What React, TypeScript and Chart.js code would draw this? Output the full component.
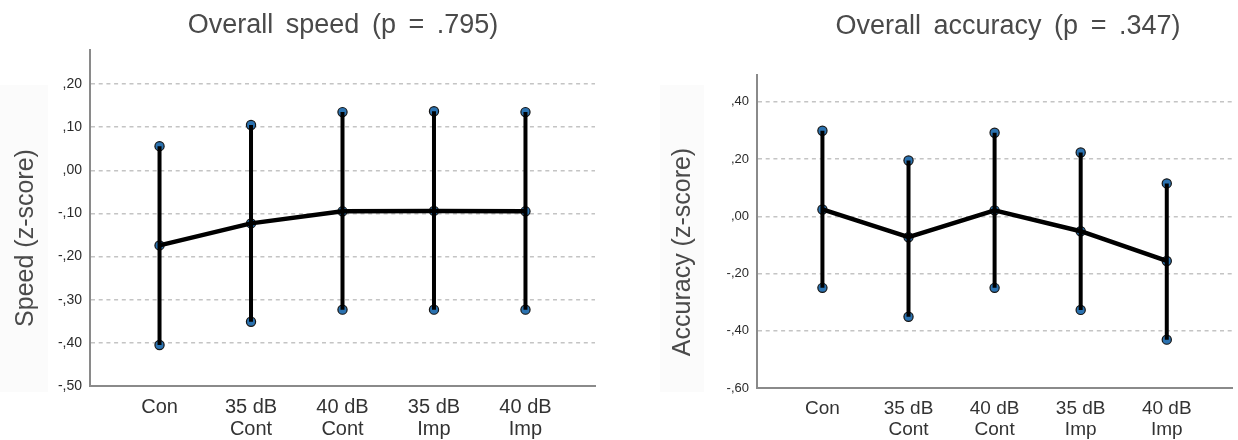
import React, { useEffect, useRef } from "react";
import { Chart, registerables } from "chart.js";

Chart.register(...registerables);

// ---------------- data ----------------
const categories = ["Con", "35 dB\nCont", "40 dB\nCont", "35 dB\nImp", "40 dB\nImp"];

const speedMean = [-0.174, -0.123, -0.095, -0.094, -0.095];
const speedLower = [-0.405, -0.351, -0.323, -0.323, -0.323];
const speedUpper = [0.056, 0.105, 0.135, 0.137, 0.135];

const accMean = [0.024, -0.073, 0.021, -0.052, -0.156];
const accLower = [-0.25, -0.351, -0.25, -0.327, -0.431];
const accUpper = [0.299, 0.195, 0.292, 0.223, 0.115];

const speedTicks = [0.2, 0.1, 0, -0.1, -0.2, -0.3, -0.4, -0.5];
const speedTickLabels = [",20", ",10", ",00", "-,10", "-,20", "-,30", "-,40", "-,50"];
const accTicks = [0.4, 0.2, 0, -0.2, -0.4, -0.6];
const accTickLabels = [",40", ",20", ",00", "-,20", "-,40", "-,60"];

const speedTitle = "Overall speed (p = .795)";
const accTitle = "Overall accuracy (p = .347)";
const speedAxisTitle = "Speed (z-score)";
const accAxisTitle = "Accuracy (z-score)";

// ---------------- styling / layout ----------------
const FONT = "'Liberation Sans', Arial, Helvetica, sans-serif";

type Spec = {
  offset: number;
  w: number;
  area: { left: number; right: number; top: number; bottom: number };
  yMin: number;
  yMax: number;
  ticks: number[];
  tickLabels: string[];
  mean: number[];
  lower: number[];
  upper: number[];
  tickFont: number;
  xFont: number;
  xLineH: number;
  xPad: number;
  title: string;
  titleX: number;
  titleY: number;
  yTitle: string;
  yTitleX: number;
  yTitleY: number;
  box: { x: number; y: number; w: number; h: number };
};

const leftSpec: Spec = {
  offset: 0,
  w: 620,
  area: { left: 90, right: 595, top: 50, bottom: 386 },
  yMin: -0.5,
  yMax: 0.279,
  ticks: speedTicks,
  tickLabels: speedTickLabels,
  mean: speedMean,
  lower: speedLower,
  upper: speedUpper,
  tickFont: 14,
  xFont: 20,
  xLineH: 22,
  xPad: 10,
  title: speedTitle,
  titleX: 343,
  titleY: 33,
  yTitle: speedAxisTitle,
  yTitleX: 26,
  yTitleY: 238,
  box: { x: 0, y: 85, w: 48, h: 307 },
};

const rightSpec: Spec = {
  offset: 620,
  w: 618,
  area: { left: 137, right: 618, top: 75, bottom: 388 },
  yMin: -0.6,
  yMax: 0.494,
  ticks: accTicks,
  tickLabels: accTickLabels,
  mean: accMean,
  lower: accLower,
  upper: accUpper,
  tickFont: 13,
  xFont: 19,
  xLineH: 21,
  xPad: 10,
  title: accTitle,
  titleX: 388,
  titleY: 34,
  yTitle: accAxisTitle,
  yTitleX: 63,
  yTitleY: 252,
  box: { x: 40, y: 85, w: 44, h: 307 },
};

function makeConfig(spec: Spec): any {
  const lineColor = "#000000";
  const errorSets = categories.map((_, i) => ({
    type: "line",
    data: [
      { x: i, y: spec.lower[i] },
      { x: i, y: spec.upper[i] },
    ],
    borderColor: lineColor,
    borderWidth: 4,
    pointRadius: 0,
    fill: false,
    order: 1,
  }));
  const meanSet = {
    type: "line",
    data: categories.map((_, i) => ({ x: i, y: spec.mean[i] })),
    borderColor: lineColor,
    borderWidth: 4.5,
    borderJoinStyle: "round",
    pointRadius: 0,
    fill: false,
    tension: 0,
    order: 0,
  };
  const pointData: { x: number; y: number }[] = [];
  categories.forEach((_, i) => {
    pointData.push({ x: i, y: spec.lower[i] });
    pointData.push({ x: i, y: spec.upper[i] });
    pointData.push({ x: i, y: spec.mean[i] });
  });
  const pointSet = {
    type: "line",
    data: pointData,
    showLine: false,
    pointRadius: 4.6,
    pointBackgroundColor: "#2b72b0",
    pointBorderColor: "#151515",
    pointBorderWidth: 1.2,
    order: 5,
  };

  const textPlugin = {
    id: "panelText" + spec.offset,
    beforeDraw(chart: any) {
      const ctx = chart.ctx;
      ctx.save();
      ctx.fillStyle = "#fbfbfb";
      ctx.fillRect(spec.box.x, spec.box.y, spec.box.w, spec.box.h);
      ctx.restore();
    },
    afterDraw(chart: any) {
      const ctx = chart.ctx;
      ctx.save();
      ctx.font = `27px ${FONT}`;
      ctx.fillStyle = "#4a4a4a";
      ctx.textAlign = "center";
      ctx.textBaseline = "alphabetic";
      (ctx as any).wordSpacing = "5px";
      ctx.fillText(spec.title, spec.titleX, spec.titleY);
      (ctx as any).wordSpacing = "0px";
      ctx.translate(spec.yTitleX, spec.yTitleY);
      ctx.rotate(-Math.PI / 2);
      ctx.textBaseline = "middle";
      ctx.font = `25px ${FONT}`;
      ctx.fillStyle = "#4a4a4a";
      ctx.fillText(spec.yTitle, 0, 0);
      ctx.restore();
    },
  };

  return {
    type: "line",
    data: { datasets: [...errorSets, meanSet, pointSet] },
    plugins: [textPlugin],
    options: {
      animation: false,
      responsive: false,
      devicePixelRatio: 1,
      layout: {
        padding: { top: spec.area.top, left: 0, right: spec.w - spec.area.right, bottom: 0 },
      },
      plugins: {
        legend: { display: false },
        tooltip: { enabled: false },
        title: { display: false },
      },
      scales: {
        x: {
          type: "linear",
          min: -0.76,
          max: 4.76,
          afterBuildTicks: (s: any) => {
            s.ticks = categories.map((_, i) => ({ value: i }));
          },
          afterFit: (s: any) => {
            s.height = 440 - spec.area.bottom;
          },
          grid: { display: false, drawTicks: false },
          border: { display: true, color: "#8a8a8a", width: 2 },
          ticks: {
            autoSkip: false,
            maxRotation: 0,
            minRotation: 0,
            padding: spec.xPad,
            color: "#333333",
            font: { family: FONT, size: spec.xFont, lineHeight: spec.xLineH / spec.xFont },
            callback: (v: number) => {
              const i = Math.round(v);
              const lines = (categories[i] || "").split("\n");
              return lines.length === 1 ? lines[0] : lines;
            },
          },
        },
        y: {
          type: "linear",
          min: spec.yMin,
          max: spec.yMax,
          afterBuildTicks: (s: any) => {
            s.ticks = spec.ticks.map((v) => ({ value: v }));
          },
          afterFit: (s: any) => {
            s.width = spec.area.left;
          },
          grid: {
            drawTicks: false,
            color: "#c4c4c4",
            lineWidth: 1.5,
          },
          border: { display: true, color: "#8a8a8a", width: 2, dash: [4, 3.7] },
          ticks: {
            padding: 8,
            color: "#2a2a2a",
            font: { family: FONT, size: spec.tickFont },
            callback: (v: number) => {
              const idx = spec.ticks.findIndex((t) => Math.abs(t - v) < 1e-9);
              return idx >= 0 ? spec.tickLabels[idx] : "";
            },
          },
        },
      },
    },
  };
}

function Panel({ spec }: { spec: Spec }) {
  const ref = useRef<HTMLCanvasElement>(null);
  useEffect(() => {
    const chart = new Chart(ref.current as HTMLCanvasElement, makeConfig(spec));
    return () => chart.destroy();
  }, [spec]);
  return (
    <canvas
      ref={ref}
      width={spec.w}
      height={440}
      style={{ position: "absolute", left: spec.offset, top: 0, width: spec.w, height: 440 }}
    />
  );
}

export default function App() {
  return (
    <div
      style={{
        position: "absolute",
        left: 0,
        top: 0,
        width: 1238,
        height: 440,
        background: "#ffffff",
        overflow: "hidden",
      }}
    >
      <Panel spec={leftSpec} />
      <Panel spec={rightSpec} />
    </div>
  );
}
